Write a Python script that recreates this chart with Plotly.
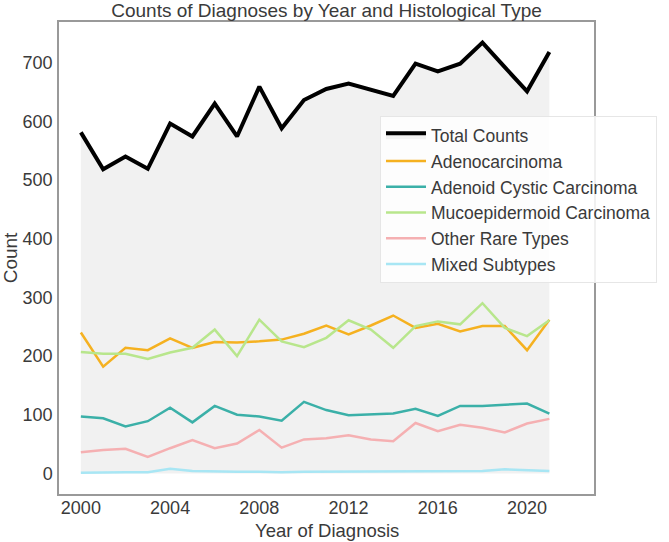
import plotly.graph_objects as go

years = list(range(2000, 2022))
total = [581, 518, 540, 519, 596, 574, 630, 574, 659, 588, 636, 655, 664, 653, 643, 698, 685, 698, 734, 692, 651, 718]
adeno = [240, 182, 214, 210, 230, 214, 224, 223, 225, 228, 238, 252, 237, 252, 269, 248, 255, 242, 251, 251, 210, 262]
adenoid = [97, 94, 80, 89, 112, 87, 115, 100, 97, 90, 122, 108, 99, 100, 102, 110, 98, 115, 115, 117, 119, 102]
muco = [207, 204, 204, 195, 206, 214, 245, 200, 262, 225, 215, 231, 261, 245, 214, 251, 259, 254, 290, 248, 234, 261]
other = [36, 40, 42, 28, 43, 57, 43, 51, 74, 44, 58, 60, 65, 58, 55, 86, 72, 83, 78, 70, 85, 93]
mixed = [1, 2, 2, 2, 8, 4, 3, 3, 3, 2, 3, 3, 3, 4, 4, 4, 4, 3, 4, 7, 6, 4]

series = [
    ("Adenocarcinoma", adeno, "#f5b120"),
    ("Adenoid Cystic Carcinoma", adenoid, "#3bb0a8"),
    ("Mucoepidermoid Carcinoma", muco, "#b8e68c"),
    ("Other Rare Types", other, "#f5b0b2"),
    ("Mixed Subtypes", mixed, "#a8e6f4"),
]

fig = go.Figure()
fig.add_trace(go.Scatter(x=years, y=total, name="Total Counts", mode="lines",
                         line=dict(color="black", width=4),
                         fill="tozeroy", fillcolor="#f1f1f1"))
for name, vals, col in series:
    fig.add_trace(go.Scatter(x=years, y=vals, name=name, mode="lines",
                             line=dict(color=col, width=2.5)))

axis_common = dict(showgrid=False, zeroline=False, showline=True, mirror=True,
                   linecolor="#999", linewidth=1.5, ticks="", automargin=False,
                   tickfont=dict(size=18, color="#3a3a3a"))

fig.update_layout(
    width=669, height=542,
    margin=dict(l=59, r=72, t=22, b=48),
    paper_bgcolor="white", plot_bgcolor="white",
    font=dict(family="Liberation Sans, Arial, sans-serif", color="#3a3a3a"),
    title=dict(text="Counts of Diagnoses by Year and Histological Type",
               x=0.5, xanchor="center", xref="paper", y=0.993, yanchor="top",
               font=dict(size=19, color="#3a3a3a")),
    xaxis=dict(range=[1999.02, 2023.0], tickvals=[2000, 2004, 2008, 2012, 2016, 2020],
               ticklabelstandoff=-3,
               **axis_common),
    yaxis=dict(range=[-35, 769], tickvals=[0, 100, 200, 300, 400, 500, 600, 700],
               ticklabelstandoff=1,
               title=dict(text="Count", font=dict(size=19, color="#3a3a3a")),
               **axis_common),
    legend=dict(x=0.600, y=0.800, xanchor="left", yanchor="top", itemwidth=40,
                bgcolor="rgba(255,255,255,0.85)", bordercolor="#e6e6e6", borderwidth=1,
                font=dict(size=17.5, color="#3a3a3a"), tracegroupgap=0),
    showlegend=True,
    annotations=[dict(text="Year of Diagnosis", xref="paper", yref="paper",
                      x=0.5, y=-48 / 472, xanchor="center", yanchor="bottom",
                      borderpad=0, showarrow=False, font=dict(size=18.5, color="#3a3a3a"))],
)

fig.write_html("out.html")
